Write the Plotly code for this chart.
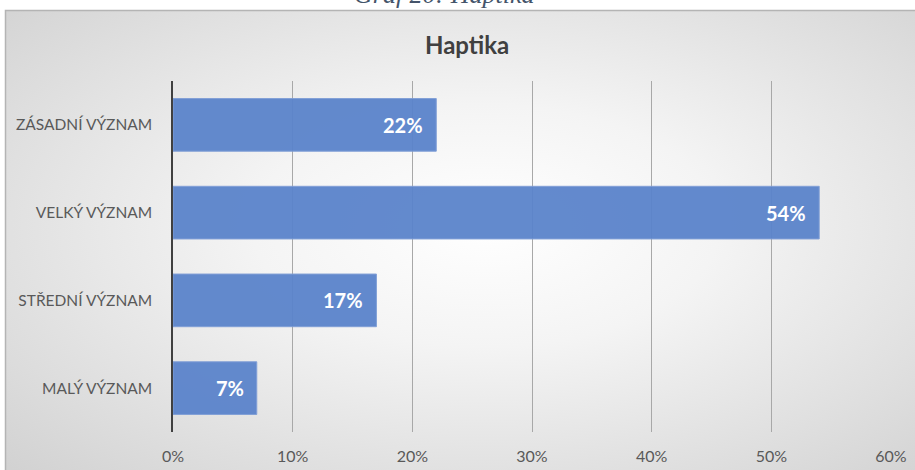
import base64
import plotly.graph_objects as go

categories = ["ZÁSADNÍ VÝZNAM", "VELKÝ VÝZNAM", "STŘEDNÍ VÝZNAM", "MALÝ VÝZNAM"]
values = [22, 54, 17, 7]
value_labels = ["22%", "54%", "17%", "7%"]
tick_vals = [0, 10, 20, 30, 40, 50, 60]
tick_text = ["0%", "10%", "20%", "30%", "40%", "50%", "60%"]
title_text = "Haptika"
caption_text = "Graf 20: Haptika"

W, H = 915, 470
L, R, T, B = 173, 24, 81, 38
pw, ph = W - L - R, H - T - B

def px_x(x):
    return (x - L) / pw

def px_y(y):
    return 1 - (y - T) / ph

svg = (
    '<svg xmlns="http://www.w3.org/2000/svg" width="1000" height="500" viewBox="0 0 1000 500" preserveAspectRatio="none">'
    '<defs><radialGradient id="g" cx="52%" cy="45%" r="72%">'
    '<stop offset="0" stop-color="#ffffff"/>'
    '<stop offset="0.35" stop-color="#f4f4f4"/>'
    '<stop offset="1" stop-color="#d2d2d2"/>'
    '</radialGradient></defs>'
    '<rect x="0" y="0" width="1000" height="500" fill="url(#g)"/></svg>'
)
src = "data:image/svg+xml;base64," + base64.b64encode(svg.encode()).decode()

font = "Lato, 'Open Sans', sans-serif"

fig = go.Figure()
fig.add_trace(go.Bar(
    x=values, y=categories, orientation="h",
    marker=dict(color="#5B84CB", line=dict(color="#7C9CD6", width=1)),
    opacity=0.95,
    width=0.6,
    hoverinfo="skip",
))

for v, c, t in zip(values, categories, value_labels):
    fig.add_annotation(
        x=v, y=c, xref="x", yref="y", text="<b>" + t + "</b>",
        showarrow=False, xanchor="right", xshift=-11,
        font=dict(family=font, size=20, color="#ffffff"),
    )

fig.add_annotation(
    x=px_x(467), y=px_y(45), xref="paper", yref="paper",
    text="<b>" + title_text + "</b>", showarrow=False,
    xanchor="center", yanchor="middle",
    font=dict(family=font, size=24, color="#404040"),
)
fig.add_annotation(
    x=px_x(444), y=px_y(11), xref="paper", yref="paper",
    text="<i>" + caption_text + "</i>", showarrow=False,
    xanchor="center", yanchor="bottom",
    font=dict(family="'Liberation Serif', serif", size=26, color="#44546A"),
)

fig.add_layout_image(
    source=src, xref="paper", yref="paper",
    x=px_x(5), y=px_y(10), sizex=px_x(930) - px_x(5), sizey=px_y(10) - px_y(490),
    xanchor="left", yanchor="top", sizing="stretch", layer="below",
)
fig.add_shape(
    type="rect", xref="paper", yref="paper",
    x0=px_x(5.5), x1=px_x(940), y0=px_y(500), y1=px_y(10.5),
    line=dict(color="#b4b4b4", width=1.5), fillcolor="rgba(0,0,0,0)", layer="below",
)

fig.update_layout(
    width=W, height=H,
    margin=dict(l=L, r=R, t=T, b=B),
    paper_bgcolor="#ffffff",
    plot_bgcolor="rgba(0,0,0,0)",
    showlegend=False,
    bargap=0.4,
    xaxis=dict(
        range=[0, 60], tickvals=tick_vals, ticktext=tick_text,
        showgrid=True, gridcolor="#a8a8a8", gridwidth=1,
        zeroline=False, showline=False, automargin=False,
        ticks="outside", ticklen=10, tickcolor="rgba(0,0,0,0)",
        tickfont=dict(family=font, size=16, color="#595959"),
        fixedrange=True,
    ),
    yaxis=dict(
        autorange="reversed", showgrid=False, zeroline=False,
        showline=True, linecolor="#404040", linewidth=1.5, automargin=False,
        ticks="outside", ticklen=16, tickcolor="rgba(0,0,0,0)",
        tickfont=dict(family=font, size=15.5, color="#595959"),
        fixedrange=True,
    ),
)

fig.write_html("out.html")
